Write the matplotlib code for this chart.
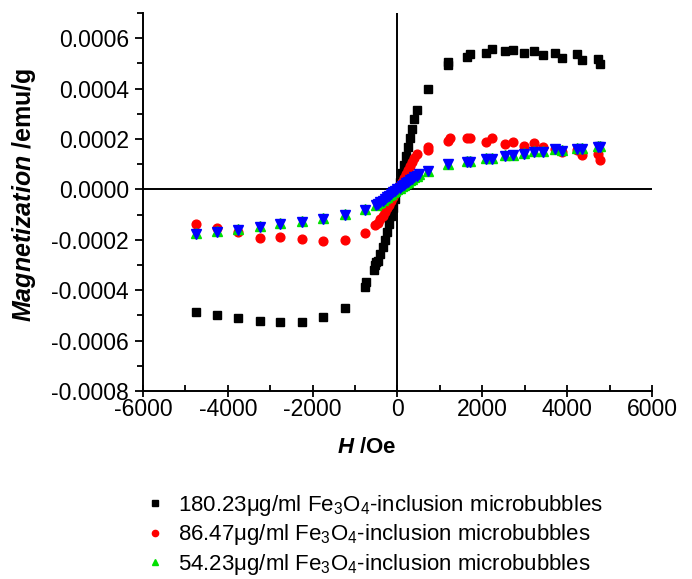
import matplotlib
matplotlib.use("Agg")
import matplotlib.pyplot as plt
from matplotlib.ticker import MultipleLocator, FormatStrFormatter
from matplotlib.lines import Line2D

plt.rcParams['font.family'] = ['Liberation Sans', 'DejaVu Sans']
plt.rcParams['mathtext.fontset'] = 'custom'
plt.rcParams['mathtext.rm'] = 'Liberation Sans'
plt.rcParams['mathtext.it'] = 'Liberation Sans:italic:bold'
plt.rcParams['mathtext.bf'] = 'Liberation Sans:bold'

# ---------------- data ----------------
labels = ['180.23\u03bcg/ml Fe$_3$O$_4$-inclusion microbubbles',
          '86.47\u03bcg/ml Fe$_3$O$_4$-inclusion microbubbles',
          '54.23\u03bcg/ml Fe$_3$O$_4$-inclusion microbubbles',
          'blank microbubbles']

h_black = [-4752, -4254, -3759, -3248, -2760, -2250, -1755, -1243, -771, -731, -560, -520, -495,
           -450, -400, -350, -300, -250, -200, -150, -100, -50, 0, 50, 100, 150, 200, 250, 300, 350, 400, 450,
           724, 1193, 1200, 1642, 1722, 2083, 2232, 2531, 2727, 2979, 3222, 3434, 3710, 3882, 4222, 4340, 4732, 4771]
m_black = [-0.000487, -0.000500, -0.000511, -0.000522, -0.000526, -0.000525, -0.000507, -0.000470, -0.000388, -0.000368, -0.000320, -0.000300, -0.000290,
           -0.000285, -0.000258, -0.000230, -0.000200, -0.000170, -0.000138, -0.000105, -0.000072, -0.000038, -0.000004, 0.000030, 0.000064, 0.000098, 0.000133, 0.000167, 0.000205, 0.000240, 0.000278, 0.000315,
           0.000400, 0.000492, 0.000505, 0.000525, 0.000538, 0.000542, 0.000556, 0.000549, 0.000554, 0.000542, 0.000549, 0.000534, 0.000542, 0.000522, 0.000536, 0.000512, 0.000516, 0.000496]

h_red = [-4752, -4254, -3759, -3248, -2760, -2250, -1755, -1243, -771, -535,
         -450, -400, -350, -300, -250, -200, -150, -100, -50, 0, 50, 100, 150, 200, 250, 300, 350, 400, 450,
         724, 724, 1193, 1233, 1642, 1722, 2083, 2232, 2531, 2727, 2979, 3222, 3434, 3710, 3882, 4222, 4340, 4732, 4771]
m_red = [-0.000139, -0.000152, -0.000169, -0.000192, -0.000189, -0.000197, -0.000205, -0.000202, -0.000173, -0.000140,
         -0.000132, -0.000118, -0.000104, -0.000090, -0.000075, -0.000060, -0.000045, -0.000030, -0.000015, 0.000000, 0.000016, 0.000031, 0.000046, 0.000061, 0.000077, 0.000093, 0.000108, 0.000124, 0.000140,
         0.000168, 0.000155, 0.000194, 0.000205, 0.000204, 0.000204, 0.000188, 0.000204, 0.000181, 0.000188, 0.000172, 0.000184, 0.000168, 0.000159, 0.000148, 0.000155, 0.000135, 0.000142, 0.000118]

h_green = [-4752, -4254, -3759, -3248, -2760, -2250, -1755, -1243, -771,
           -500, -450, -400, -350, -300, -250, -200, -150, -100, -50, 0, 50, 100, 150, 200, 250, 300, 350, 400, 450, 500,
           724, 1193, 1642, 1722, 2083, 2232, 2531, 2727, 2979, 3222, 3434, 3710, 3882, 4222, 4340, 4732, 4771]
m_green = [-0.000172, -0.000166, -0.000157, -0.000146, -0.000133, -0.000127, -0.000113, -0.000098, -0.000078,
           -0.000060, -0.000054, -0.000048, -0.000042, -0.000036, -0.000030, -0.000024, -0.000018, -0.000012, -0.000006, 0.000000, 0.000006, 0.000012, 0.000018, 0.000024, 0.000030, 0.000036, 0.000042, 0.000048, 0.000054, 0.000060,
           0.000075, 0.000102, 0.000111, 0.000111, 0.000125, 0.000125, 0.000135, 0.000138, 0.000145, 0.000151, 0.000151, 0.000162, 0.000155, 0.000164, 0.000164, 0.000171, 0.000171]

h_blue = [-4752, -4254, -3759, -3248, -2760, -2250, -1755, -1243, -771,
          -500, -450, -400, -350, -300, -250, -200, -150, -100, -50, 0, 50, 100, 150, 200, 250, 300, 350, 400, 450, 500,
          724, 1193, 1642, 1722, 2083, 2232, 2531, 2727, 2979, 3222, 3434, 3710, 3882, 4222, 4340, 4732, 4771]
m_blue = [-0.000176, -0.000169, -0.000160, -0.000149, -0.000136, -0.000130, -0.000116, -0.000101, -0.000081,
          -0.000062, -0.000056, -0.000050, -0.000044, -0.000037, -0.000031, -0.000025, -0.000019, -0.000012, -0.000006, 0.000000, 0.000006, 0.000012, 0.000018, 0.000024, 0.000030, 0.000036, 0.000042, 0.000048, 0.000054, 0.000060,
          0.000073, 0.000099, 0.000108, 0.000108, 0.000122, 0.000122, 0.000132, 0.000135, 0.000142, 0.000148, 0.000148, 0.000159, 0.000152, 0.000161, 0.000161, 0.000168, 0.000168]

# ---------------- plot ----------------
fig = plt.figure(figsize=(6.92, 5.79), dpi=100)
ax = fig.add_axes([0.2066, 0.3247, 0.7355, 0.6528])

ax.plot(h_black, m_black, ls='none', marker='s', ms=5.5, color='black', mec='black')
ax.plot(h_red, m_red, ls='none', marker='o', ms=6.3, color='red', mec='red')
ax.plot(h_green, m_green, ls='none', marker='^', ms=7, color='#00e000', mec='#00e000')
ax.plot(h_blue, m_blue, ls='none', marker='v', ms=6.5, color='blue', mec='blue')

ax.axhline(0, color='black', lw=1.4, zorder=0.5)
ax.axvline(0, color='black', lw=1.4, zorder=0.5)

ax.set_xlim(-6000, 6000)
ax.set_ylim(-0.0008, 0.0007)
ax.spines['top'].set_visible(False)
ax.spines['right'].set_visible(False)
ax.spines['left'].set_linewidth(1.4)
ax.spines['bottom'].set_linewidth(1.4)

ax.xaxis.set_major_locator(MultipleLocator(2000))
ax.xaxis.set_minor_locator(MultipleLocator(1000))
ax.yaxis.set_major_locator(MultipleLocator(0.0002))
ax.yaxis.set_minor_locator(MultipleLocator(0.0001))
ax.yaxis.set_major_formatter(FormatStrFormatter('%.4f'))
ax.xaxis.set_major_formatter(FormatStrFormatter('%d'))

ax.tick_params(axis='y', which='major', direction='out', length=6, width=1.3, labelsize=16.5, pad=4)
ax.tick_params(axis='y', which='minor', direction='out', length=4, width=1.3)
ax.tick_params(axis='x', which='major', direction='inout', length=8, width=1.3, labelsize=16.5, pad=1)
ax.tick_params(axis='x', which='minor', direction='in', length=4, width=1.3)

ax.set_ylabel(r'$\mathit{Magnetization}$ /emu/g', fontsize=18, fontweight='bold')
ax.yaxis.set_label_coords(-0.206, 0.52)
ax.set_xlabel(r'$\mathit{H}$ /Oe', fontsize=16, fontweight='bold')
ax.xaxis.set_label_coords(0.44, -0.122)

handles = [Line2D([], [], ls='none', marker='s', ms=4, color='black'),
           Line2D([], [], ls='none', marker='o', ms=4.5, color='red'),
           Line2D([], [], ls='none', marker='^', ms=5, color='#00e000')]
fig.legend(handles, labels[:3], loc='upper left', bbox_to_anchor=(0.214, 1 - 493 / 579),
           frameon=False, fontsize=16, handlelength=0.6, handletextpad=0.73,
           labelspacing=0.2, borderpad=0, borderaxespad=0)

fig.savefig('out.png', dpi=100)
